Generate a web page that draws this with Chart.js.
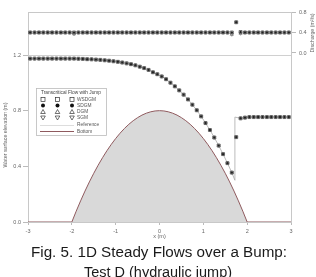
<!DOCTYPE html>
<html>
<head>
<meta charset="utf-8">
<script src="https://cdn.jsdelivr.net/npm/chart.js@4.4.1/dist/chart.umd.min.js"></script>
<style>
  html, body { margin: 0; padding: 0; background: #fff; }
  #wrap { width: 316px; height: 277px; }
</style>
</head>
<body>
<div id="wrap"><canvas id="chart" width="316" height="277"></canvas></div>
<script>
// cell centres (m)
const cellX = [-2.95, -2.85, -2.75, -2.65, -2.55, -2.45, -2.35, -2.25, -2.15, -2.05,
  -1.95, -1.85, -1.75, -1.65, -1.55, -1.45, -1.35, -1.25, -1.15, -1.05,
  -0.95, -0.85, -0.75, -0.65, -0.55, -0.45, -0.35, -0.25, -0.15, -0.05,
  0.05, 0.15, 0.25, 0.35, 0.45, 0.55, 0.65, 0.75, 0.85, 0.95,
  1.05, 1.15, 1.25, 1.35, 1.45, 1.55, 1.65, 1.75, 1.85, 1.95,
  2.05, 2.15, 2.25, 2.35, 2.45, 2.55, 2.65, 2.75, 2.85, 2.95];

// water surface elevation (m)
const surface = [1.174, 1.174, 1.174, 1.174, 1.174, 1.174, 1.174, 1.174, 1.174, 1.174,
  1.174, 1.173, 1.172, 1.170, 1.169, 1.167, 1.165, 1.162, 1.159, 1.155,
  1.151, 1.146, 1.140, 1.134, 1.126, 1.116, 1.106, 1.093, 1.076, 1.062,
  1.046, 1.026, 1.001, 0.975, 0.946, 0.915, 0.881, 0.843, 0.803, 0.759,
  0.711, 0.661, 0.607, 0.549, 0.488, 0.423, 0.355, 0.610, 0.745, 0.750,
  0.754, 0.754, 0.754, 0.754, 0.754, 0.754, 0.754, 0.754, 0.754, 0.754];

// discharge (m2/s), WSDGM / SDGM
const discharge = [0.4, 0.4, 0.4, 0.4, 0.4, 0.4, 0.4, 0.4, 0.4, 0.4,
  0.4, 0.4, 0.4, 0.4, 0.4, 0.4, 0.4, 0.4, 0.4, 0.4,
  0.4, 0.4, 0.4, 0.4, 0.4, 0.4, 0.4, 0.4, 0.4, 0.4,
  0.4, 0.4, 0.4, 0.4, 0.4, 0.4, 0.4, 0.4, 0.4, 0.4,
  0.4, 0.4, 0.4, 0.4, 0.4, 0.4, 0.4, 0.6, 0.41, 0.4,
  0.4, 0.4, 0.4, 0.4, 0.4, 0.4, 0.4, 0.4, 0.4, 0.4];

// discharge (m2/s), DGM / SGM
const dischargeAlt = [0.4, 0.4, 0.4, 0.4, 0.4, 0.4, 0.4, 0.4, 0.4, 0.4,
  0.37, 0.4, 0.4, 0.4, 0.4, 0.4, 0.4, 0.4, 0.4, 0.4,
  0.4, 0.4, 0.4, 0.4, 0.4, 0.4, 0.4, 0.4, 0.4, 0.4,
  0.4, 0.4, 0.4, 0.4, 0.4, 0.4, 0.4, 0.4, 0.4, 0.4,
  0.4, 0.4, 0.4, 0.4, 0.4, 0.4, 0.36, 0.6, 0.38, 0.4,
  0.4, 0.4, 0.4, 0.4, 0.4, 0.4, 0.4, 0.4, 0.4, 0.4];

// reference solution jump
const jumpX = 1.72;
const jumpLow = 0.30;
const jumpHigh = 0.754;

// bottom (bump)
const bedX = [-3, -2, -1.9, -1.8, -1.7, -1.6, -1.5, -1.4, -1.3, -1.2, -1.1,
  -1.0, -0.9, -0.8, -0.7, -0.6, -0.5, -0.4, -0.3, -0.2, -0.1,
  0, 0.1, 0.2, 0.3, 0.4, 0.5, 0.6, 0.7, 0.8, 0.9,
  1.0, 1.1, 1.2, 1.3, 1.4, 1.5, 1.6, 1.7, 1.8, 1.9, 2, 3];
const bedZ = [0, 0, 0.078, 0.152, 0.222, 0.288, 0.35, 0.408, 0.462, 0.512, 0.558,
  0.6, 0.638, 0.672, 0.702, 0.728, 0.75, 0.768, 0.782, 0.792, 0.798,
  0.8, 0.798, 0.792, 0.782, 0.768, 0.75, 0.728, 0.702, 0.672, 0.638,
  0.6, 0.558, 0.512, 0.462, 0.408, 0.35, 0.288, 0.222, 0.152, 0.078, 0, 0];

const leftTicks = [0, 0.4, 0.8, 1.2];
const rightTicks = [0, 0.4, 0.8];

const tickFont = { family: 'Liberation Sans', size: 5.5 };

function pts(xs, ys) {
  return xs.map((x, i) => ({ x: x, y: ys[i] }));
}

// reference line: surface with a sharp jump
const refPts = pts(cellX, surface).filter(p => p.x < jumpX)
  .concat([{ x: jumpX, y: jumpLow }, { x: jumpX, y: jumpHigh }])
  .concat(pts(cellX, surface).filter(p => p.x > 1.8));

function markerSets(ys, ysAlt, axis) {
  return [
    { label: 'WSDGM', data: pts(cellX, ys), yAxisID: axis, showLine: false, order: 1,
      pointStyle: 'rect', pointRadius: 2.1, backgroundColor: 'rgba(0,0,0,0)', borderColor: '#555', borderWidth: 0.8 },
    { label: 'SDGM', data: pts(cellX, ys), yAxisID: axis, showLine: false, order: 2,
      pointStyle: 'circle', pointRadius: 1.2, backgroundColor: '#222', borderColor: '#222', borderWidth: 0 },
    { label: 'DGM', data: pts(cellX, ysAlt), yAxisID: axis, showLine: false, order: 3,
      pointStyle: 'triangle', pointRadius: 1.8, backgroundColor: 'rgba(0,0,0,0)', borderColor: '#777', borderWidth: 0.6 },
    { label: 'SGM', data: pts(cellX, ysAlt), yAxisID: axis, showLine: false, order: 4,
      pointStyle: 'triangle', rotation: 180, pointRadius: 1.8, backgroundColor: 'rgba(0,0,0,0)', borderColor: '#777', borderWidth: 0.6 }
  ];
}

// legend, axis titles, caption
const extras = {
  id: 'extras',
  afterDraw(chart) {
    const { ctx, chartArea: a } = chart;
    ctx.save();
    ctx.strokeStyle = '#c8c8c8';
    ctx.lineWidth = 1;
    ctx.beginPath();
    ctx.moveTo(a.left, a.top + 0.5);
    ctx.lineTo(a.right, a.top + 0.5);
    ctx.stroke();

    // y titles
    ctx.fillStyle = '#666';
    ctx.font = '5.3px "Liberation Sans"';
    ctx.textAlign = 'center';
    ctx.textBaseline = 'middle';
    ctx.save();
    ctx.translate(6, 135);
    ctx.rotate(-Math.PI / 2);
    ctx.fillText('Water surface elevation (m)', 0, 0);
    ctx.restore();
    ctx.save();
    ctx.translate(313, 33);
    ctx.rotate(-Math.PI / 2);
    ctx.fillText('Discharge (m\u00b2/s)', 0, 0);
    ctx.restore();

    // legend box
    ctx.fillStyle = '#fff';
    ctx.fillRect(36, 88, 71, 48);
    ctx.strokeStyle = '#bbb';
    ctx.lineWidth = 0.8;
    ctx.strokeRect(36.5, 88.5, 70, 47);
    ctx.fillStyle = '#444';
    ctx.font = '4.8px "Liberation Sans"';
    ctx.textAlign = 'center';
    ctx.fillText('Transcritical Flow with Jump', 71, 92.5);
    const cols = [43, 57.5, 72];
    ctx.strokeStyle = '#333';
    ctx.fillStyle = '#111';
    ctx.lineWidth = 0.7;
    cols.forEach(cx => {
      ctx.strokeRect(cx - 2, 97.5, 4, 4);
      ctx.beginPath();
      ctx.arc(cx, 105.5, 2, 0, Math.PI * 2);
      ctx.fill();
      ctx.beginPath();
      ctx.moveTo(cx, 109.5); ctx.lineTo(cx + 2.3, 113.5); ctx.lineTo(cx - 2.3, 113.5); ctx.closePath();
      ctx.stroke();
      ctx.beginPath();
      ctx.moveTo(cx - 2.3, 116); ctx.lineTo(cx + 2.3, 116); ctx.lineTo(cx, 120); ctx.closePath();
      ctx.stroke();
    });
    ctx.strokeStyle = '#ddd';
    ctx.lineWidth = 1;
    ctx.beginPath(); ctx.moveTo(40, 125.5); ctx.lineTo(74, 125.5); ctx.stroke();
    ctx.strokeStyle = '#8f5a5e';
    ctx.beginPath(); ctx.moveTo(40, 131.5); ctx.lineTo(74, 131.5); ctx.stroke();
    ctx.fillStyle = '#555';
    ctx.textAlign = 'left';
    ['WSDGM', 'SDGM', 'DGM', 'SGM', 'Reference', 'Bottom'].forEach((t, i) => {
      const ys = [99.5, 105.5, 111.8, 118, 125, 131.5];
      ctx.fillText(t, 77, ys[i]);
    });

    // caption
    ctx.fillStyle = '#1a1a1a';
    ctx.font = '15.5px "Liberation Sans"';
    ctx.textAlign = 'center';
    ctx.textBaseline = 'alphabetic';
    ctx.fillText('Fig. 5. 1D Steady Flows over a Bump:', 159, 257, 256);
    ctx.fillText('Test D (hydraulic jump)', 158, 276.5, 148);
    ctx.restore();
  }
};

const ctx = document.getElementById('chart').getContext('2d');
const chart = new Chart(ctx, {
  type: 'scatter',
  data: {
    datasets: markerSets(surface, surface, 'y')
      .concat(markerSets(discharge, dischargeAlt, 'y2'))
      .concat([
        { label: 'Reference', data: refPts, yAxisID: 'y', showLine: true, order: 9,
          borderColor: '#aaa', borderWidth: 0.8, pointRadius: 0, fill: false },
        { label: 'Bottom', data: pts(bedX, bedZ), yAxisID: 'y', showLine: true, order: 10,
          borderColor: '#8f5a5e', borderWidth: 1, pointRadius: 0,
          backgroundColor: '#d9d9d9', fill: 'origin' }
      ])
  },
  options: {
    responsive: false,
    devicePixelRatio: 1,
    animation: false,
    layout: { padding: { top: 12, left: 0, right: 0, bottom: 0 } },
    plugins: {
      legend: { display: false },
      tooltip: { enabled: false }
    },
    scales: {
      x: {
        type: 'linear',
        min: -3, max: 3,
        ticks: { stepSize: 1, font: tickFont, color: '#666', padding: 3, maxRotation: 0 },
        grid: { drawOnChartArea: false, tickLength: 3, tickColor: '#bbb' },
        border: { color: '#c8c8c8' },
        title: { display: true, text: 'x (m)', font: tickFont, color: '#666', padding: { top: 0, bottom: 37 } },
        afterFit: s => { s.height = 55; }
      },
      y: {
        position: 'left',
        min: 0, max: 1.509,
        afterBuildTicks: s => { s.ticks = leftTicks.map(v => ({ value: v })); },
        ticks: { font: tickFont, color: '#666', padding: 2, callback: v => v.toFixed(1) },
        grid: { color: c => (c.tick && c.tick.value === 1.2 ? '#d0d0d0' : 'rgba(0,0,0,0)'), tickLength: 5, tickColor: '#bbb' },
        border: { color: '#c8c8c8' },
        afterFit: s => { s.width = 28; }
      },
      y2: {
        position: 'right',
        min: -3.298, max: 0.8,
        afterBuildTicks: s => { s.ticks = rightTicks.map(v => ({ value: v })); },
        ticks: { font: tickFont, color: '#666', padding: 3, callback: v => v.toFixed(1) },
        grid: { drawOnChartArea: false, tickLength: 5, tickColor: '#bbb' },
        border: { color: '#c8c8c8' },
        afterFit: s => { s.width = 25; }
      }
    }
  },
  plugins: [extras]
});
</script>
</body>
</html>
